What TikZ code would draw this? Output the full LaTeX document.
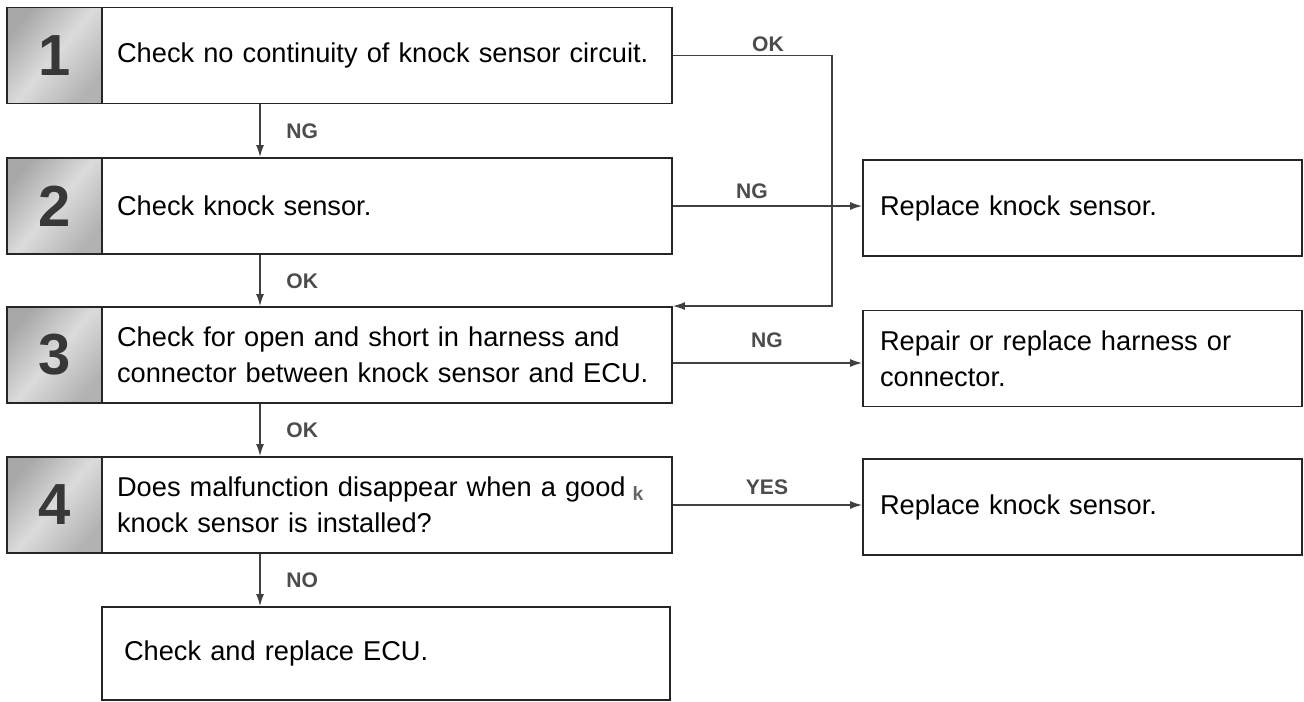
\documentclass[tikz,border=0pt]{standalone}
\usepackage{fontspec}
\setmainfont{Liberation Sans}
\usetikzlibrary{arrows.meta}

\begin{document}
\begin{tikzpicture}[x=0.02cm, y=-0.02cm,
		stepbox/.style={draw=black!85, line width=1.1pt, fill=white, inner xsep=0.3cm, inner ysep=0pt, text width=10.8cm, minimum height=1.92cm, align=left, font=\fontsize{15.5}{20.5}\selectfont},
		numbox/.style={draw=black!85, line width=1.1pt, minimum width=1.9cm, minimum height=1.92cm, inner sep=0pt, left color=black!34, right color=black!30, middle color=black!14, shading angle=50, text=black!78, font=\fontsize{33}{33}\bfseries},
		fixbox/.style={stepbox, inner xsep=0.34cm, text width=8.1cm},
		conn/.style={draw=black!75, line width=0.8pt, -{Latex[length=2.4mm,width=1.6mm]}},
		answer/.style={text=black!70, font=\fontsize{12}{12}\bfseries, inner sep=0pt}]
		%%%%% START %%%%%
		\useasboundingbox (0,0) rectangle (1304,702);
		
		% numbered steps
		\node[numbox] (n1) at (54.5, 55.5) {1};
		\node[stepbox] (s1) at (387, 55.5) {Check no continuity of knock sensor circuit.};
		
		\node[numbox] (n2) at (54.5, 206) {2};
		\node[stepbox] (s2) at (387, 206) {Check knock sensor.};
		
		\node[numbox] (n3) at (54.5, 355) {3};
		\node[stepbox] (s3) at (387, 355) {Check for open and short in harness and\\connector between knock sensor and ECU.};
		
		\node[numbox] (n4) at (54.5, 505) {4};
		\node[stepbox] (s4) at (387, 505) {Does malfunction disappear when a good\\knock sensor is installed?};
		\node[text=black!60, font=\fontsize{11}{11}\bfseries, inner sep=0pt] (kk) at (638, 493) {k};
		
		\node[stepbox, inner xsep=0.44cm, text width=10.48cm, minimum height=1.86cm] (e1) at (386, 653.5) {Check and replace ECU.};
		
		% repairs on the right
		\node[fixbox] (r1) at (1082.5, 208) {Replace knock sensor.};
		\node[fixbox] (r2) at (1082.5, 358.5) {Repair or replace harness or\\connector.};
		\node[fixbox] (r3) at (1082.5, 507) {Replace knock sensor.};
		
		% down the main line
		\draw[conn] ([xshift=-2.54cm]s1.south) -- ([xshift=-2.54cm]s2.north);
		\draw[conn] ([xshift=-2.54cm]s2.south) -- ([xshift=-2.54cm]s3.north);
		\draw[conn] ([xshift=-2.54cm]s3.south) -- ([xshift=-2.54cm]s4.north);
		\draw[conn] ([xshift=-2.54cm]s4.south) -- ([xshift=-2.54cm]s4.south |- e1.north);
		\node[answer, anchor=west] (l1) at (286, 131) {NG};
		\node[answer, anchor=west] (l2) at (286, 281) {OK};
		\node[answer, anchor=west] (l3) at (286, 430) {OK};
		\node[answer, anchor=west] (l4) at (286, 580) {NO};
		
		% out to the right
		\draw[conn] (s1.east) -- ++(3.18cm,0) |- (s3.north east);
		\draw[conn] (s2.east) -- (s2.east -| r1.west);
		\draw[conn] ([yshift=-0.16cm]s3.east) -- ([yshift=-0.16cm]s3.east -| r2.west);
		\draw[conn] (s4.east) -- (s4.east -| r3.west);
		\node[answer] (k1) at (768, 44) {OK};
		\node[answer] (k2) at (752, 191) {NG};
		\node[answer] (k3) at (767, 340) {NG};
		\node[answer] (k4) at (767, 487) {YES};
		%%%%% END %%%%%
	\end{tikzpicture}
\end{document}
